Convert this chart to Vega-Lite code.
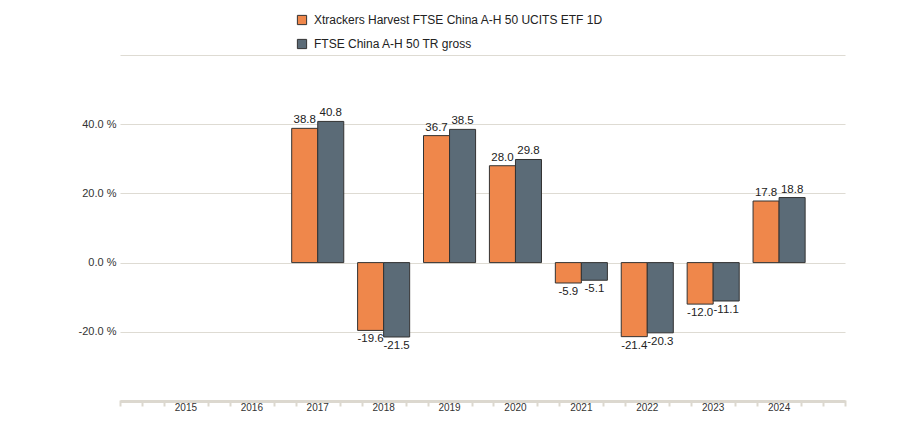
{
  "$schema": "https://vega.github.io/schema/vega-lite/v6.json",
  "autosize": {"type": "none"},
  "width": 725,
  "height": 346,
  "padding": {"left": 120, "top": 55, "right": 60, "bottom": 29},
  "background": "white",
  "config": {
    "font": "Liberation Sans",
    "view": {"stroke": null}
  },
  "data": {
    "values": [
      {"year": "2017", "series": "Xtrackers Harvest FTSE China A-H 50 UCITS ETF 1D", "value": 38.8},
      {"year": "2017", "series": "FTSE China A-H 50 TR gross", "value": 40.8},
      {"year": "2018", "series": "Xtrackers Harvest FTSE China A-H 50 UCITS ETF 1D", "value": -19.6},
      {"year": "2018", "series": "FTSE China A-H 50 TR gross", "value": -21.5},
      {"year": "2019", "series": "Xtrackers Harvest FTSE China A-H 50 UCITS ETF 1D", "value": 36.7},
      {"year": "2019", "series": "FTSE China A-H 50 TR gross", "value": 38.5},
      {"year": "2020", "series": "Xtrackers Harvest FTSE China A-H 50 UCITS ETF 1D", "value": 28.0},
      {"year": "2020", "series": "FTSE China A-H 50 TR gross", "value": 29.8},
      {"year": "2021", "series": "Xtrackers Harvest FTSE China A-H 50 UCITS ETF 1D", "value": -5.9},
      {"year": "2021", "series": "FTSE China A-H 50 TR gross", "value": -5.1},
      {"year": "2022", "series": "Xtrackers Harvest FTSE China A-H 50 UCITS ETF 1D", "value": -21.4},
      {"year": "2022", "series": "FTSE China A-H 50 TR gross", "value": -20.3},
      {"year": "2023", "series": "Xtrackers Harvest FTSE China A-H 50 UCITS ETF 1D", "value": -12.0},
      {"year": "2023", "series": "FTSE China A-H 50 TR gross", "value": -11.1},
      {"year": "2024", "series": "Xtrackers Harvest FTSE China A-H 50 UCITS ETF 1D", "value": 17.8},
      {"year": "2024", "series": "FTSE China A-H 50 TR gross", "value": 18.8}
    ]
  },
  "resolve": {"scale": {"x": "independent"}, "axis": {"x": "independent"}},
  "layer": [
    {
      "encoding": {
        "x": {
          "field": "year",
          "type": "nominal",
          "scale": {
            "domain": ["2015", "2016", "2017", "2018", "2019", "2020", "2021", "2022", "2023", "2024"],
            "paddingInner": 0.21,
            "paddingOuter": 0.605
          },
          "axis": {
            "title": null,
            "orient": "bottom",
            "labelAngle": 0,
            "labelFontSize": 10,
            "labelColor": "#333333",
            "labelPadding": 1,
            "ticks": false,
            "domainColor": "#dcd8cf",
            "domainWidth": 3,
            "grid": false,
            "zindex": 1
          }
        },
        "xOffset": {
          "field": "series",
          "type": "nominal",
          "scale": {
            "domain": ["Xtrackers Harvest FTSE China A-H 50 UCITS ETF 1D", "FTSE China A-H 50 TR gross"],
            "paddingInner": 0,
            "paddingOuter": 0
          }
        },
        "y": {
          "field": "value",
          "type": "quantitative",
          "scale": {"domain": [-40, 60], "nice": false, "zero": false},
          "axis": {
            "title": null,
            "values": [-20, 0, 20, 40, 60],
            "labelExpr": "datum.value == 60 ? '' : replace(format(datum.value, '.1f'), '\u2212', '-') + ' %'",
            "labelFontSize": 11,
            "labelColor": "#333333",
            "labelPadding": 4,
            "ticks": false,
            "domain": false,
            "grid": true,
            "gridColor": "#dedbd3",
            "gridWidth": 1.2
          }
        }
      },
      "layer": [
        {
          "mark": {"type": "bar", "stroke": "#333333", "strokeWidth": 1},
          "encoding": {
            "color": {
              "field": "series",
              "type": "nominal",
              "scale": {
                "domain": ["Xtrackers Harvest FTSE China A-H 50 UCITS ETF 1D", "FTSE China A-H 50 TR gross"],
                "range": ["#EF874B", "#5B6B77"]
              },
              "legend": {
                "title": null,
                "orient": "none",
                "legendX": 176,
                "legendY": -41,
                "direction": "vertical",
                "symbolType": "square",
                "symbolSize": 85,
                "symbolStrokeColor": "#333333",
                "symbolStrokeWidth": 1,
                "symbolOpacity": 1,
                "labelFontSize": 12,
                "labelColor": "#222222",
                "labelOffset": 6,
                "rowPadding": 10,
                "labelLimit": 500
              }
            }
          }
        },
        {
          "transform": [
            {"filter": "datum.value >= 0"},
            {"calculate": "replace(format(datum.value, '.1f'), '\u2212', '-')", "as": "label"}
          ],
          "mark": {"type": "text", "baseline": "bottom", "dy": -3, "fontSize": 11.5, "color": "#222222"},
          "encoding": {"text": {"field": "label", "type": "nominal"}}
        },
        {
          "transform": [
            {"filter": "datum.value < 0"},
            {"calculate": "replace(format(datum.value, '.1f'), '\u2212', '-')", "as": "label"}
          ],
          "mark": {"type": "text", "baseline": "top", "dy": 3, "fontSize": 11.5, "color": "#222222"},
          "encoding": {"text": {"field": "label", "type": "nominal"}}
        }
      ]
    },
    {
      "mark": {"type": "rule", "opacity": 0},
      "encoding": {
        "x": {
          "datum": 0,
          "type": "quantitative",
          "scale": {"domain": [0, 33], "nice": false, "zero": false},
          "axis": {
            "title": null,
            "orient": "bottom",
            "values": [0, 1, 2, 4, 5, 7, 8, 10, 11, 13, 14, 16, 17, 19, 20, 22, 23, 25, 26, 28, 29, 31, 32, 33],
            "labels": false,
            "domain": false,
            "grid": false,
            "ticks": true,
            "tickColor": "#dcd8cf",
            "tickWidth": 2,
            "tickSize": 6,
            "offset": -1,
            "zindex": 1
          }
        }
      }
    }
  ]
}
